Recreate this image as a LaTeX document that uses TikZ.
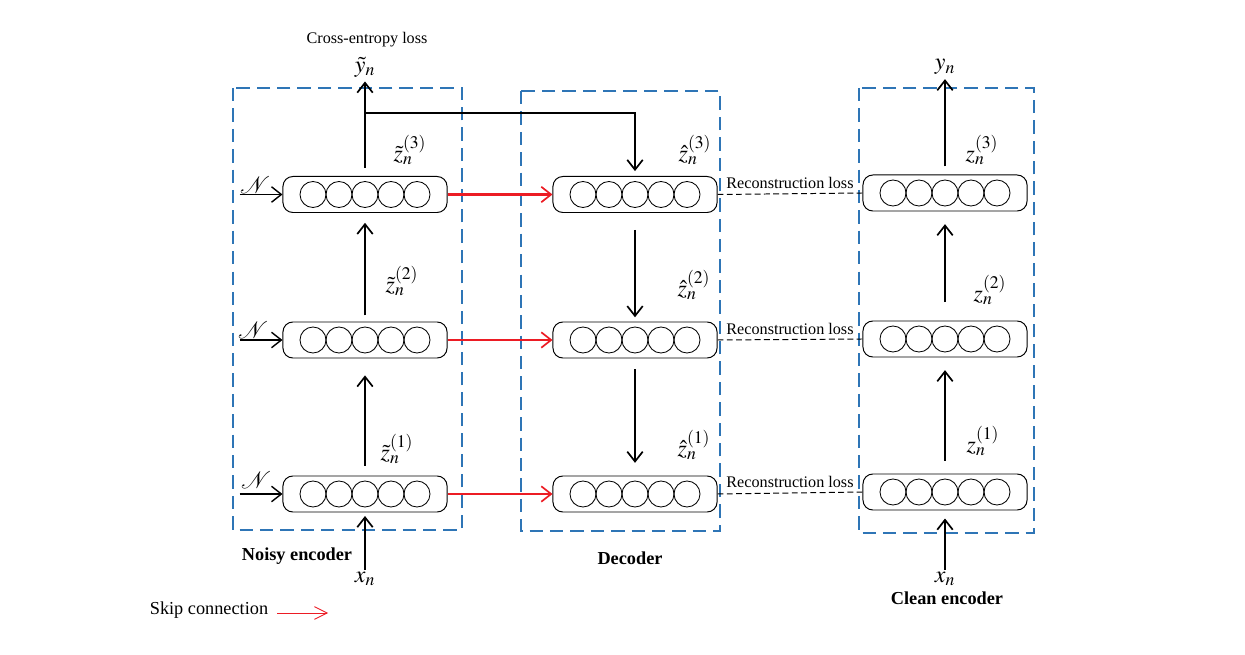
\documentclass[tikz,border=0pt]{standalone}
\usepackage{mathptmx}
\usepackage[no-math]{fontspec}
\setmainfont{Liberation Serif}
\usetikzlibrary{arrows.meta,positioning,calc}
\definecolor{boxblue}{RGB}{46,117,182}
\definecolor{skipred}{RGB}{236,28,36}

\begin{document}
\begin{tikzpicture}[x=0.025cm, y=-0.025cm,
    layer/.style={rectangle, rounded corners=7pt, draw, line width=0.7pt, minimum width=4.1cm, minimum height=0.9cm, inner sep=0pt},
    neuron/.style={line width=0.6pt},
    groupbox/.style={draw=boxblue, line width=1.2pt, dash pattern=on 9.5pt off 5pt},
    fwd/.style={line width=1.4pt, -{Straight Barb[length=7pt,width=11pt,line width=1.2pt]}},
    noise/.style={line width=1pt, -{Straight Barb[length=7pt,width=11pt,line width=1pt]}},
    skip/.style={fwd, skipred, line width=1.6pt},
    skipthin/.style={line width=0.6pt, skipred, -{Straight Barb[length=9pt,width=9pt,line width=0.6pt]}},
    recon/.style={line width=0.7pt, dash pattern=on 4.2pt off 2.4pt},
    vec/.style={font=\fontsize{17}{19}\selectfont, inner sep=1pt},
    losstext/.style={font=\fontsize{11.5}{13}\selectfont},
    partname/.style={font=\fontsize{13}{15}\selectfont\bfseries}
]
\useasboundingbox (0,0) rectangle (1245,655);

% Group frames
\draw[groupbox] (233,88) rectangle (462,530);
\draw[groupbox] (521,91) rectangle (720,531);
\draw[groupbox] (859,88) rectangle (1034,533);

% Noisy encoder layers
\node[layer] (n1) at (365,494) {};
\node[layer] (n2) at (365,340) {};
\node[layer] (n3) at (365,194.5) {};

% Decoder layers
\node[layer] (d1) at (635,494) {};
\node[layer] (d2) at (635,340) {};
\node[layer] (d3) at (635,194.5) {};

% Clean encoder layers
\node[layer] (c1) at (945,492) {};
\node[layer] (c2) at (945,339) {};
\node[layer] (c3) at (945,193) {};

% Units in every layer
\foreach \lay in {n1,n2,n3,d1,d2,d3,c1,c2,c3}
  \foreach \k in {-2,...,2}
    \draw[neuron] ([xshift=\k*0.65cm]\lay.center) circle (0.325cm);

% Noisy encoder
\node[vec] (xnoisy) at (365,579) {$x_n$};
\node[vec] (ytilde) at (365,67) {$\tilde{y}_n$};
\node[losstext, inner sep=0.5pt] (celoss) at (367,40) {Cross-entropy loss};
\draw[fwd, shorten >=2.5pt] (xnoisy.north) -- (n1.south);
\draw[fwd, shorten <=7pt, shorten >=12pt] (n1.north) -- (n2.south);
\draw[fwd, shorten <=4.3pt, shorten >=7pt] (n2.north) -- (n3.south);
\draw[fwd, shorten <=5.7pt, shorten >=2pt] (n3.north) -- (ytilde.south);
\node[vec] at (410,150) {$\tilde{z}_n^{(3)}$};
\node[vec] at (402,281) {$\tilde{z}_n^{(2)}$};
\node[vec] at (397,449) {$\tilde{z}_n^{(1)}$};

% Noise inputs
\foreach \lay in {n1,n2,n3}
  \draw[noise] ([xshift=-30.5pt]\lay.west) -- (\lay.west);
\node[vec] (noise3) at (255,185) {$\mathcal{N}$};
\node[vec] (noise2) at (253,330) {$\mathcal{N}$};
\node[vec] (noise1) at (256,480) {$\mathcal{N}$};

% Top-down path into the decoder
\coordinate (tap) at (365,113);
\draw[fwd, shorten >=3.5pt] (tap) -| (d3.north);

% Decoder
\draw[fwd, shorten <=12pt, shorten >=3pt] (d3.south) -- (d2.north);
\draw[fwd, shorten <=7.5pt, shorten >=9pt] (d2.south) -- (d1.north);
\node[vec] at (695,150) {$\hat{z}_n^{(3)}$};
\node[vec] at (694,285) {$\hat{z}_n^{(2)}$};
\node[vec] at (694,445) {$\hat{z}_n^{(1)}$};

% Clean encoder
\node[vec] (xclean) at (945,579) {$x_n$};
\node[vec] (yclean) at (945,67) {$y_n$};
\draw[fwd, shorten >=5.7pt] (xclean.north) -- (c1.south);
\draw[fwd, shorten <=9pt, shorten >=9pt] (c1.north) -- (c2.south);
\draw[fwd, shorten <=13pt, shorten >=9pt] (c2.north) -- (c3.south);
\draw[fwd, shorten <=5.7pt, shorten >=2pt] (c3.north) -- (yclean.south);
\node[vec] at (982,150) {$z_n^{(3)}$};
\node[vec] at (990,290) {$z_n^{(2)}$};
\node[vec] at (983,441) {$z_n^{(1)}$};

% Skip connections
\draw[skip] (n3.east) -- (d3.west);
\draw[skip] (n2.east) -- (d2.west);
\draw[skip] (n1.east) -- (d1.west);

% Reconstruction costs
\draw[recon] (d3.east) -- (c3.west) node[midway, above, losstext] {Reconstruction loss};
\draw[recon] (d2.east) -- (c2.west) node[midway, above, losstext] {Reconstruction loss};
\draw[recon] (d1.east) -- (c1.west) node[midway, above, losstext] {Reconstruction loss};

% Part names
\node[partname] (noisyname) at (297,556) {Noisy encoder};
\node[partname] (decname) at (630,558) {Decoder};
\node[partname] (cleanname) at (947,598) {Clean encoder};

% Legend
\node[font=\fontsize{13}{15}\selectfont, inner sep=0pt] (skiptxt) at (209,610) {Skip connection};
\coordinate (skipend) at (328,613);
\draw[skipthin] ([xshift=6.4pt]skiptxt.east |- skipend) -- (skipend);

\end{tikzpicture}
\end{document}
